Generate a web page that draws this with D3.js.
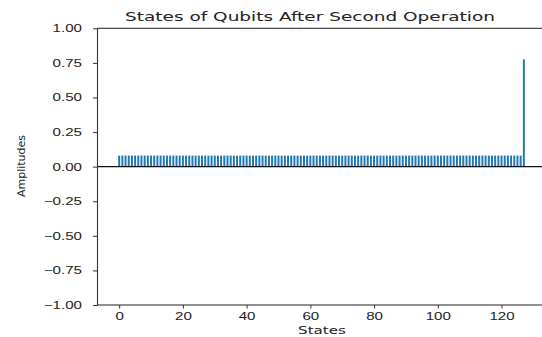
<!DOCTYPE html>
<html>
<head>
<meta charset="utf-8">
<script src="https://cdn.jsdelivr.net/npm/d3@7"></script>
<style>
  body { margin: 0; background: #fff; }
  svg { display: block; font-family: "DejaVu Sans", sans-serif; }
</style>
</head>
<body>
<svg id="chart" width="542" height="337"></svg>
<script>
// states 0..127 (7 qubits)
const states = d3.range(128);
const amplitudes = [
  0.08, 0.08, 0.08, 0.08, 0.08, 0.08, 0.08, 0.08, 0.08, 0.08, 0.08, 0.08, 0.08, 0.08, 0.08, 0.08,
  0.08, 0.08, 0.08, 0.08, 0.08, 0.08, 0.08, 0.08, 0.08, 0.08, 0.08, 0.08, 0.08, 0.08, 0.08, 0.08,
  0.08, 0.08, 0.08, 0.08, 0.08, 0.08, 0.08, 0.08, 0.08, 0.08, 0.08, 0.08, 0.08, 0.08, 0.08, 0.08,
  0.08, 0.08, 0.08, 0.08, 0.08, 0.08, 0.08, 0.08, 0.08, 0.08, 0.08, 0.08, 0.08, 0.08, 0.08, 0.08,
  0.08, 0.08, 0.08, 0.08, 0.08, 0.08, 0.08, 0.08, 0.08, 0.08, 0.08, 0.08, 0.08, 0.08, 0.08, 0.08,
  0.08, 0.08, 0.08, 0.08, 0.08, 0.08, 0.08, 0.08, 0.08, 0.08, 0.08, 0.08, 0.08, 0.08, 0.08, 0.08,
  0.08, 0.08, 0.08, 0.08, 0.08, 0.08, 0.08, 0.08, 0.08, 0.08, 0.08, 0.08, 0.08, 0.08, 0.08, 0.08,
  0.08, 0.08, 0.08, 0.08, 0.08, 0.08, 0.08, 0.08, 0.08, 0.08, 0.08, 0.08, 0.08, 0.08, 0.08, 0.775
];
const xTicks = [0, 20, 40, 60, 80, 100, 120];
const yTicks = [-1.00, -0.75, -0.50, -0.25, 0.00, 0.25, 0.50, 0.75, 1.00];

const title = "States of Qubits After Second Operation";
const xLabel = "States";
const yLabel = "Amplitudes";

// the picture is stretched sideways, so text gets a horizontal scale
const sx = 1.44;

const svg = d3.select("#chart");
const mLeft = 97.5, mRight = 545.5, mTop = 28.3, mBottom = 305;

const x = d3.scaleLinear().domain([-6.8, 133.8]).range([mLeft, mRight]);
const y = d3.scaleLinear().domain([-1, 1]).range([mBottom, mTop]);
const barW = x(0.62) - x(0);

// bars
svg.append("g")
  .selectAll("rect")
  .data(states)
  .enter().append("rect")
  .attr("x", d => x(d) - barW / 2)
  .attr("width", barW)
  .attr("y", d => y(Math.max(0, amplitudes[d])))
  .attr("height", d => Math.abs(y(amplitudes[d]) - y(0)))
  .attr("fill", "#1f77b4");

// zero line
svg.append("line")
  .attr("x1", mLeft).attr("x2", mRight)
  .attr("y1", y(0)).attr("y2", y(0))
  .attr("stroke", "#111").attr("stroke-width", 1.3);

// frame
svg.append("rect")
  .attr("x", mLeft).attr("y", mTop)
  .attr("width", mRight - mLeft).attr("height", mBottom - mTop)
  .attr("fill", "none").attr("stroke", "#333").attr("stroke-width", 1.1);

// x axis
const gx = svg.append("g")
  .attr("transform", `translate(0,${mBottom})`)
  .call(d3.axisBottom(x).tickValues(xTicks).tickSize(3.5).tickPadding(4).tickFormat(d3.format("d")));
gx.select(".domain").remove();
gx.selectAll(".tick line").attr("stroke", "#333");
gx.selectAll(".tick text")
  .attr("fill", "#222")
  .style("font-size", "10.5px")
  .attr("transform", `scale(${sx},1)`);

// y axis
const gy = svg.append("g")
  .attr("transform", `translate(${mLeft},0)`)
  .call(d3.axisLeft(y).tickValues(yTicks).tickSize(4.5).tickPadding(0).tickFormat(d3.format(".2f")));
gy.select(".domain").remove();
gy.selectAll(".tick line").attr("stroke", "#333");
gy.selectAll(".tick text")
  .attr("fill", "#222")
  .style("font-size", "10.5px")
  .attr("x", -15.5 / sx)
  .attr("transform", `scale(${sx},1)`)
  .text(d => d3.format(".2f")(d).replace("-", "\u2212"));

// title
svg.append("text")
  .attr("transform", `translate(310,21) scale(${sx + 0.04},1)`)
  .attr("text-anchor", "middle")
  .style("font-size", "12.5px")
  .attr("fill", "#222")
  .text(title);

// axis labels
svg.append("text")
  .attr("transform", `translate(322,334) scale(${sx},1)`)
  .attr("text-anchor", "middle")
  .style("font-size", "10.5px")
  .attr("fill", "#222")
  .text(xLabel);

svg.append("text")
  .attr("transform", `translate(24.5,166) rotate(-90)`)
  .attr("text-anchor", "middle")
  .style("font-size", "11px")
  .attr("fill", "#222")
  .text(yLabel);
</script>
</body>
</html>
